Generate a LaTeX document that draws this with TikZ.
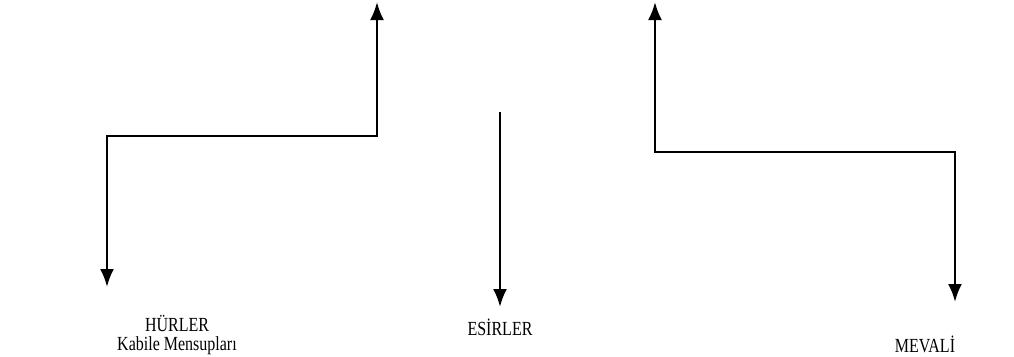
\documentclass[tikz,border=0pt]{standalone}
\usepackage{fontspec}
\setmainfont{Liberation Serif}
\newfontfamily\labelfont[FakeStretch=0.8]{Liberation Serif}
\usetikzlibrary{arrows.meta}
\begin{document}
\begin{tikzpicture}[x=1pt,y=-1pt]
\tikzset{node style/.style = {inner sep = 0pt, outer sep = 0pt, align=center, font=\labelfont\fontsize{20}{19}\selectfont},
  ok/.style = {line width=2.5pt, {Latex[length=18pt,width=14pt]}-{Latex[length=18pt,width=14pt]}},
  okdown/.style = {line width=2.5pt, -{Latex[length=18pt,width=14pt]}}}
\useasboundingbox (0,0) rectangle (1014,356);
% hurler
\coordinate (hTop) at (377,2);
\coordinate (hMid) at (377,136);
\coordinate (hLeft) at (107,136);
\coordinate (hDown) at (107,287);
% esirler
\coordinate (eTop) at (500,112);
\coordinate (eDown) at (500,307);
% mevali
\coordinate (mTop) at (655,2);
\coordinate (mMid) at (655,152);
\coordinate (mRight) at (955,152);
\coordinate (mDown) at (955,302);
\node[node style, anchor=south] (hurler) at (177,355) {HÜRLER\\Kabile Mensupları};
\node[node style, anchor=base] (esirler) at (500,335) {ESİRLER};
\node[node style, anchor=base] (mevali) at (925,352) {MEVALİ};
\draw[ok] (hTop) -- (hMid) -- (hLeft) -- (hDown);
\draw[okdown] (eTop) -- (eDown);
\draw[ok] (mTop) -- (mMid) -- (mRight) -- (mDown);
\end{tikzpicture}
\end{document}
